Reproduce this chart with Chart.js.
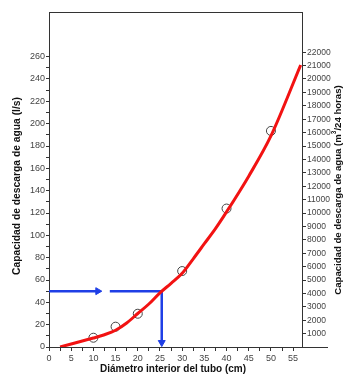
<!DOCTYPE html>
<html>
<head>
<meta charset="utf-8">
<script src="https://cdn.jsdelivr.net/npm/chart.js@4.4.1/dist/chart.umd.min.js"></script>
<style>
html,body{margin:0;padding:0;background:#fff;}
#wrap{width:356px;height:382px;}
</style>
</head>
<body>
<div id="wrap"><canvas id="c" width="356" height="382"></canvas></div>
<script>
// Data
const curveX = [2.5, 5, 7.5, 10, 12.5, 15, 17.5, 20, 22.5, 25, 27.5, 30, 32.5, 35, 37.5, 40, 45, 50, 56.7];
const curveY = [0, 2.7, 5.4, 8, 11, 15, 21.5, 30, 38.5, 48.5, 57, 66, 79, 92.5, 106, 121, 153, 189, 252.5];
const pointsX = [10, 15, 20, 30, 40, 50];
const pointsY = [8.3, 18.2, 29.8, 68, 124, 193.5];
const arrowH1X = [0, 11];
const arrowH2X = [13.7, 25.4];
const arrowY = [50, 50];
const arrowVX = [25.4, 25.4];
const arrowVY = [50, 3];
const arrowHeadH = [{x: 11, y: 50}];
const arrowHeadV = [{x: 25.4, y: 4}];
const xTickLabels = [0, 5, 10, 15, 20, 25, 30, 35, 40, 45, 50, 55];
const xMinorTicks = [2.5, 7.5, 12.5, 17.5, 22.5, 27.5, 32.5, 37.5, 42.5, 47.5, 52.5];
const leftMax = 260, rightMax = 22000;

const BLUE = '#1f3fe6', RED = '#f21212', AX = '#333';

const zip = (xs, ys) => xs.map((x, i) => ({x, y: ys[i]}));

const titles = {
  id: 'titles',
  afterDraw(chart) {
    const ctx = chart.ctx, a = chart.chartArea;
    ctx.save();
    // frame top + x-axis extension
    ctx.strokeStyle = AX; ctx.lineWidth = 1;
    ctx.beginPath();
    ctx.moveTo(a.left, a.top + 0.5); ctx.lineTo(a.right, a.top + 0.5);
    ctx.moveTo(a.right, a.bottom + 0.5); ctx.lineTo(328, a.bottom + 0.5);
    ctx.stroke();
    ctx.fillStyle = '#111';
    ctx.textAlign = 'center'; ctx.textBaseline = 'middle';
    ctx.font = 'bold 10px "Liberation Sans", Arial, sans-serif';
    ctx.fillText('Diámetro interior del tubo (cm)', 173, 369);
    ctx.save();
    ctx.translate(17, 186); ctx.rotate(-Math.PI / 2);
    ctx.font = 'bold 10.3px "Liberation Sans", Arial, sans-serif';
    ctx.fillText('Capacidad de descarga de agua (l/s)', 0, 0);
    ctx.restore();
    ctx.save();
    ctx.translate(338, 190); ctx.rotate(-Math.PI / 2);
    const t1 = 'Capacidad de descarga de agua (m', t2 = '3', t3 = '/24 horas)';
    const big = 'bold 9.6px "Liberation Sans", Arial, sans-serif';
    const sm = 'bold 6.5px "Liberation Sans", Arial, sans-serif';
    ctx.font = big;
    const w1 = ctx.measureText(t1).width, w3 = ctx.measureText(t3).width;
    ctx.font = sm;
    const w2 = ctx.measureText(t2).width;
    let x0 = -(w1 + w2 + w3) / 2;
    ctx.textAlign = 'left';
    ctx.font = big;
    ctx.fillText(t1, x0, 0);
    ctx.font = sm;
    ctx.fillText(t2, x0 + w1, -4);
    ctx.font = big;
    ctx.fillText(t3, x0 + w1 + w2, 0);
    ctx.restore();
    ctx.restore();
  }
};

const tickFont = {family: '"Liberation Sans", Arial, sans-serif', size: 9};

new Chart(document.getElementById('c'), {
  type: 'line',
  data: {
    datasets: [
      {data: zip(curveX, curveY), borderColor: RED, borderWidth: 3, pointRadius: 0,
       cubicInterpolationMode: 'monotone', fill: false},
      {data: zip(pointsX, pointsY), showLine: false, pointStyle: 'circle', pointRadius: 4.5,
       pointBorderColor: '#444', pointBorderWidth: 1, pointBackgroundColor: 'rgba(0,0,0,0)'},
      {data: arrowHeadH, showLine: false, pointStyle: 'triangle', pointRotation: 90, pointRadius: 4,
       pointBackgroundColor: BLUE, pointBorderColor: BLUE, pointBorderWidth: 1},
      {data: arrowHeadV, showLine: false, pointStyle: 'triangle', pointRotation: 180, pointRadius: 4,
       pointBackgroundColor: BLUE, pointBorderColor: BLUE, pointBorderWidth: 1},
      {data: zip(arrowH1X, arrowY), borderColor: BLUE, borderWidth: 2.5, pointRadius: 0, tension: 0},
      {data: zip(arrowH2X, arrowY), borderColor: BLUE, borderWidth: 2.5, pointRadius: 0, tension: 0},
      {data: zip(arrowVX, arrowVY), borderColor: BLUE, borderWidth: 2.5, pointRadius: 0, tension: 0}
    ]
  },
  options: {
    responsive: false,
    animation: false,
    devicePixelRatio: 1,
    layout: {padding: {top: 12, left: 0, right: 0, bottom: 0}},
    plugins: {legend: {display: false}, tooltip: {enabled: false}},
    scales: {
      x: {
        type: 'linear', min: 0, max: 57,
        afterFit: s => { s.height = 35; },
        afterBuildTicks: s => {
          s.ticks = xTickLabels.concat(xMinorTicks).sort((a, b) => a - b).map(v => ({value: v}));
        },
        border: {color: AX, width: 1},
        grid: {drawOnChartArea: false, drawTicks: true, tickLength: 4, tickColor: AX},
        ticks: {padding: 2, color: '#444', font: tickFont, maxRotation: 0, autoSkip: false,
          callback: v => xTickLabels.includes(v) ? String(v) : ''}
      },
      y: {
        type: 'linear', position: 'left', min: 0, max: 300,
        afterFit: s => { s.width = 49; },
        border: {color: AX, width: 1},
        grid: {drawOnChartArea: false, drawTicks: true, tickLength: 3,
          tickColor: c => (c.tick && c.tick.value > leftMax) ? 'rgba(0,0,0,0)' : AX},
        ticks: {stepSize: 10, padding: 1, color: '#444', font: tickFont, autoSkip: false,
          callback: v => (v % 20 === 0 && v <= leftMax) ? String(v) : ''}
      },
      y2: {
        type: 'linear', position: 'right', min: 0, max: 25000,
        afterFit: s => { s.width = 54; },
        border: {color: AX, width: 1},
        grid: {drawOnChartArea: false, drawTicks: true, tickLength: 4,
          tickColor: c => (c.tick && (c.tick.value > rightMax || c.tick.value === 0)) ? 'rgba(0,0,0,0)' : AX},
        ticks: {stepSize: 1000, padding: 1, color: '#444', font: {family: tickFont.family, size: 8.5}, autoSkip: false,
          callback: v => (v > 0 && v <= rightMax) ? String(v) : ''}
      }
    }
  },
  plugins: [titles]
});
</script>
</body>
</html>
